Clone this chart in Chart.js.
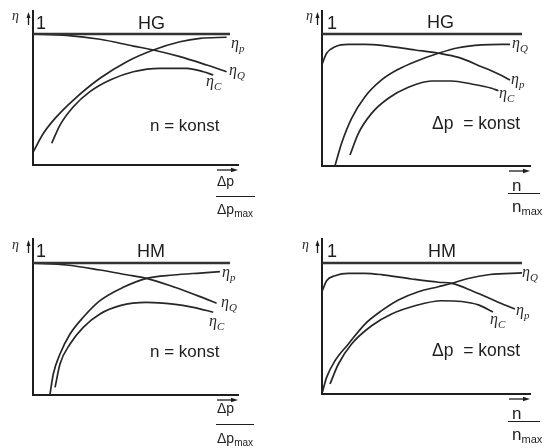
<!DOCTYPE html>
<html><head><meta charset="utf-8">
<script src="https://cdn.jsdelivr.net/npm/chart.js@4.4.0/dist/chart.umd.min.js"></script>
<style>
html,body{margin:0;padding:0;background:#fff;}
#wrap{position:relative;width:545px;height:448px;overflow:hidden;background:#fff;}
canvas{position:absolute;left:0;top:0;}
.t{position:absolute;white-space:pre;line-height:1;color:#1e1e1e;font-family:"Liberation Sans",Arial,sans-serif;}
.g{font-family:"Liberation Serif","DejaVu Serif",serif;font-style:italic;color:#2a2a2a;}
.fl{position:absolute;height:0;border-top:1.5px solid #1e1e1e;}
</style></head>
<body><div id="wrap"></div>
<script>
// ---- data (x = relative abscissa 0..1, y = efficiency 0..1) ----
const panelTitles = ["HG", "HG", "HM", "HM"];
const conditionLabels = ["n = konst", "\u0394p  = konst", "n = konst", "\u0394p  = konst"];
const refLine = [[0, 1], [1, 1]];

// HG, n = konst
const hgN_etaQ = [[0,1.0],[0.171,0.990],[0.340,0.960],[0.509,0.908],[0.611,0.878],[0.746,0.827],[0.882,0.763],[0.983,0.712]];
const hgN_etaP = [[0.002,0.102],[0.053,0.242],[0.120,0.369],[0.205,0.496],[0.340,0.662],[0.476,0.789],[0.611,0.878],[0.746,0.941],[0.848,0.967],[0.983,0.975]];
const hgN_etaC = [[0.095,0.166],[0.137,0.305],[0.205,0.445],[0.289,0.560],[0.391,0.649],[0.509,0.712],[0.645,0.738],[0.780,0.738],[0.865,0.712],[0.915,0.687]];

// HG, Δp = konst
const hgDp_etaP = [[0.002,0.778],[0.023,0.854],[0.065,0.904],[0.132,0.922],[0.215,0.922],[0.298,0.914],[0.465,0.879],[0.582,0.854],[0.682,0.823],[0.798,0.752],[0.882,0.697],[0.94,0.652]];
const hgDp_etaQ = [[0.065,0.002],[0.098,0.172],[0.148,0.361],[0.215,0.525],[0.298,0.652],[0.382,0.733],[0.465,0.790],[0.582,0.854],[0.682,0.896],[0.798,0.917],[0.94,0.922]];
const hgDp_etaC = [[0.14,0.083],[0.182,0.248],[0.248,0.399],[0.332,0.513],[0.432,0.596],[0.548,0.644],[0.648,0.644],[0.748,0.621],[0.848,0.589],[0.882,0.570]];

// HM, n = konst
const hmN_etaQ = [[0.002,0.998],[0.171,0.985],[0.340,0.947],[0.476,0.911],[0.577,0.884],[0.712,0.820],[0.848,0.745],[0.932,0.695]];
const hmN_etaP = [[0.086,0.002],[0.103,0.159],[0.137,0.311],[0.188,0.462],[0.255,0.589],[0.340,0.715],[0.458,0.816],[0.577,0.884],[0.712,0.909],[0.848,0.924],[0.949,0.934]];
const hmN_etaC = [[0.112,0.058],[0.137,0.235],[0.188,0.386],[0.255,0.513],[0.340,0.614],[0.442,0.677],[0.577,0.702],[0.712,0.689],[0.814,0.664],[0.915,0.627]];

// HM, Δp = konst
const hmDp_etaP = [[0.002,0.789],[0.023,0.865],[0.065,0.903],[0.132,0.921],[0.215,0.921],[0.298,0.911],[0.448,0.878],[0.582,0.853],[0.65,0.845],[0.755,0.785],[0.89,0.695],[0.965,0.649]];
const hmDp_etaQ = [[0.002,0.013],[0.023,0.127],[0.065,0.254],[0.132,0.382],[0.215,0.534],[0.298,0.636],[0.382,0.718],[0.482,0.781],[0.582,0.819],[0.65,0.845],[0.725,0.88],[0.84,0.912],[1.0,0.924]];
const hmDp_etaC = [[0.04,0.076],[0.082,0.229],[0.148,0.382],[0.248,0.521],[0.348,0.611],[0.465,0.674],[0.598,0.712],[0.698,0.706],[0.782,0.680],[0.855,0.626]];

// ---- layout (pixels) ----
const W = 545, H = 448;
const panels = [
  {x0:33,  x1:230, xEnd:238, y0:165, y1:34,  yTop:11,  series:[hgN_etaQ, hgN_etaP, hgN_etaC]},
  {x0:322, x1:522, xEnd:530, y0:166, y1:34,  yTop:11,  series:[hgDp_etaP, hgDp_etaQ, hgDp_etaC]},
  {x0:33,  x1:230, xEnd:238, y0:395, y1:263, yTop:239, series:[hmN_etaQ, hmN_etaP, hmN_etaC]},
  {x0:322, x1:522, xEnd:530, y0:394, y1:263, yTop:239, series:[hmDp_etaP, hmDp_etaQ, hmDp_etaC]}
];

const wrap = document.getElementById('wrap');

const arrowPlugin = {
  id: 'arrows',
  afterDraw(chart) {
    const ctx = chart.ctx, a = chart.chartArea;
    ctx.save();
    ctx.strokeStyle = '#1e1e1e'; ctx.fillStyle = '#1e1e1e'; ctx.lineWidth = 1.3;
    // vertical arrow next to the y axis
    const ax = a.left - 4.5, ayT = a.top + 1, ayB = a.top + 14;
    ctx.beginPath(); ctx.moveTo(ax, ayB); ctx.lineTo(ax, ayT + 4); ctx.stroke();
    ctx.beginPath(); ctx.moveTo(ax, ayT); ctx.lineTo(ax - 2, ayT + 6); ctx.lineTo(ax + 2, ayT + 6); ctx.closePath(); ctx.fill();
    // horizontal arrow under the x axis
    const hy = a.bottom + 5, hxR = a.right, hxL = a.right - 21;
    ctx.beginPath(); ctx.moveTo(hxL, hy); ctx.lineTo(hxR - 5, hy); ctx.stroke();
    ctx.beginPath(); ctx.moveTo(hxR, hy); ctx.lineTo(hxR - 7, hy - 2.2); ctx.lineTo(hxR - 7, hy + 2.2); ctx.closePath(); ctx.fill();
    ctx.restore();
  }
};

panels.forEach((p, i) => {
  const c = document.createElement('canvas');
  c.width = W; c.height = H;
  c.style.width = W + 'px'; c.style.height = H + 'px';
  wrap.appendChild(c);
  const ux = p.x1 - p.x0, uy = p.y0 - p.y1;
  const mk = (d, w, col) => ({
    data: d.map(q => ({x: q[0], y: q[1]})),
    borderColor: col, borderWidth: w, pointRadius: 0, fill: false,
    cubicInterpolationMode: 'monotone', clip: false
  });
  new Chart(c, {
    type: 'line',
    data: { datasets: [mk(refLine, 2.4, '#333'), ...p.series.map(s => mk(s, 1.7, '#262626'))] },
    options: {
      responsive: false, animation: false, devicePixelRatio: 1,
      layout: { padding: { left: p.x0, right: W - p.xEnd, top: p.yTop, bottom: H - p.y0 } },
      plugins: { legend: {display: false}, tooltip: {enabled: false}, title: {display: false} },
      events: [],
      scales: {
        x: { type: 'linear', min: 0, max: (p.xEnd - p.x0) / ux,
             grid: {display: false}, ticks: {display: false},
             border: {display: true, color: '#1e1e1e', width: 2},
             afterFit: s => { s.height = 0; } },
        y: { type: 'linear', min: 0, max: (p.y0 - p.yTop) / uy,
             grid: {display: false}, ticks: {display: false},
             border: {display: true, color: '#1e1e1e', width: 2},
             afterFit: s => { s.width = 0; } }
      }
    },
    plugins: [arrowPlugin]
  });
});

// ---- text overlays ----
function T(html, left, baseline, size, cls) {
  const d = document.createElement('div');
  d.className = 't' + (cls ? ' ' + cls : '');
  d.style.left = left + 'px';
  d.style.top = (baseline - 0.845 * size) + 'px';
  d.style.fontSize = size + 'px';
  d.innerHTML = html;
  wrap.appendChild(d);
}
function eta(sub) {
  return '\u03b7<span style="font-size:11px;position:relative;top:4px;">' + sub + '</span>';
}
function sub(main, s, sz, off) {
  return main + '<span style="font-size:' + sz + 'px;position:relative;top:' + off + 'px;">' + s + '</span>';
}
function FL(x1, x2, y) {
  const d = document.createElement('div');
  d.className = 'fl';
  d.style.left = x1 + 'px'; d.style.width = (x2 - x1) + 'px'; d.style.top = (y - 0.75) + 'px';
  wrap.appendChild(d);
}

const labelSets = [
  {eta:[12,21], one:[36,29], title:[138,29], cond:[150,131], condSize:17,
   names:[['p',231,49],['Q',229,76],['C',206,87]], frac:'dp', fx:217, fTop:186, fLine:[216,255,197], fBot:214},
  {eta:[306,21], one:[327,29], title:[427,28], cond:[432,130], condSize:17.5,
   names:[['Q',512,49],['p',511,85],['C',499,99]], frac:'n', fx:512, fTop:191, fLine:[508,540,194], fBot:212},
  {eta:[12,250], one:[36,257], title:[137,257], cond:[150,357], condSize:17,
   names:[['p',222,278],['Q',221,308],['C',209,327]], frac:'dp', fx:217, fTop:413, fLine:[216,254,425], fBot:443},
  {eta:[302,250], one:[327,257], title:[428,257], cond:[432,357], condSize:17.5,
   names:[['Q',522,278],['p',516,316],['C',490,325]], frac:'n', fx:512, fTop:419, fLine:[508,540,422], fBot:440}
];

labelSets.forEach((L, i) => {
  T('\u03b7', L.eta[0], L.eta[1], 14, 'g');
  T('1', L.one[0], L.one[1], 18);
  T(panelTitles[i], L.title[0], L.title[1], 18);
  T(conditionLabels[i], L.cond[0], L.cond[1], L.condSize);
  L.names.forEach(n => T(eta(n[0]), n[1], n[2], 16, 'g'));
  if (L.frac === 'dp') {
    T('\u0394p', L.fx, L.fTop, 14);
    T(sub('\u0394p', 'max', 10, 3), L.fx, L.fBot, 14);
  } else {
    T('n', L.fx, L.fTop, 17);
    T(sub('n', 'max', 11, 3), L.fx, L.fBot, 17);
  }
  FL(L.fLine[0], L.fLine[1], L.fLine[2]);
});
</script>
</body></html>
